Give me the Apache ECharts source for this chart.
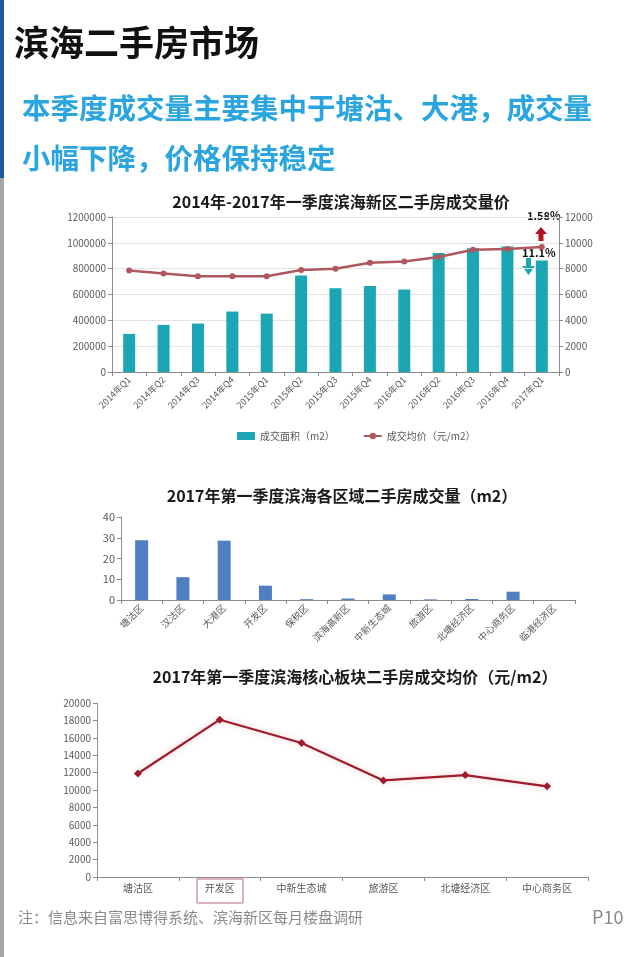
<!DOCTYPE html>
<html><head><meta charset="utf-8">
<script src="https://cdn.jsdelivr.net/npm/echarts@6/dist/echarts.min.js"></script>
<style>html,body{margin:0;padding:0;background:#fff}#c{width:640px;height:957px}</style>
</head><body><div id="c"></div>
<script>
const quarters = ['2014年Q1','2014年Q2','2014年Q3','2014年Q4','2015年Q1','2015年Q2','2015年Q3','2015年Q4','2016年Q1','2016年Q2','2016年Q3','2016年Q4','2017年Q1'];
const dealArea = [295000,365000,375000,468000,452000,747000,649000,665000,639000,921000,959000,972000,864000];
const avgPrice = [7850,7630,7420,7420,7420,7890,7990,8460,8560,8900,9460,9520,9670];
const districts = ['塘沽区','汉沽区','大港区','开发区','保税区','滨海高新区','中新生态城','旅游区','北塘经济区','中心商务区','临港经济区'];
const districtVolume = [28.8,11.0,28.6,6.9,0.4,0.7,2.7,0.3,0.5,4.0,0];
const coreAreas = ['塘沽区','开发区','中新生态城','旅游区','北塘经济区','中心商务区'];
const corePrice = [11900,18080,15400,11100,11720,10420];
const leftTicks1 = {min:0,max:1200000,interval:200000};
const rightTicks1 = {min:0,max:12000,interval:2000};
const ticks2 = {min:0,max:40,interval:10};
const ticks3 = {min:0,max:20000,interval:2000};

const F = '"Noto Sans CJK SC","Microsoft YaHei",sans-serif';
const axisGray = '#8c8c8c';
const lblGray = '#595959';
const chart = echarts.init(document.getElementById('c'), null, {renderer:'canvas'});
const plain = v => String(v);

function xCat(grid, data, rotate, fs){
  return {type:'category', gridIndex:grid, data:data,
    axisLine:{lineStyle:{color:axisGray}},
    axisTick:{show:true, length:4, lineStyle:{color:axisGray}},
    axisLabel:{interval:0, rotate:rotate, fontSize:fs, color:lblGray, fontFamily:F, margin:6}};
}
function yVal(grid, t, opts, fs){
  return Object.assign({type:'value', gridIndex:grid, min:t.min, max:t.max, interval:t.interval,
    axisLine:{show:true, lineStyle:{color:axisGray}},
    axisTick:{show:true, length:4, lineStyle:{color:axisGray}},
    splitLine:{show:false},
    axisLabel:{fontSize:fs||10, color:lblGray, fontFamily:F, margin:6, formatter:plain}}, opts||{});
}

const option = {
  animation:false,
  textStyle:{fontFamily:F},
  title:[
    {text:'2014年-2017年一季度滨海新区二手房成交量价', left:336, top:189, textAlign:'center',
      textStyle:{fontSize:16, fontWeight:'bold', color:'#1a1a1a', fontFamily:F}},
    {text:'2017年第一季度滨海各区域二手房成交量（m2）', left:337, top:483, textAlign:'center',
      textStyle:{fontSize:16, fontWeight:'bold', color:'#1a1a1a', fontFamily:F}},
    {text:'2017年第一季度滨海核心板块二手房成交均价（元/m2）', left:350, top:664, textAlign:'center',
      textStyle:{fontSize:16, fontWeight:'bold', color:'#1a1a1a', fontFamily:F}}
  ],
  legend:{left:232, top:426, itemGap:28, itemWidth:18, itemHeight:8,
    textStyle:{fontSize:10, color:lblGray, fontFamily:F},
    data:[{name:'成交面积（m2）', icon:'rect'}, {name:'成交均价（元/m2）'}]},
  grid:[
    {left:112, right:81, top:217, bottom:585},
    {left:121, right:65, top:517, bottom:357},
    {left:97, right:52, top:703, bottom:80}
  ],
  xAxis:[
    xCat(0, quarters, 45, 9),
    xCat(1, districts, 45, 9.5),
    xCat(2, coreAreas, 0, 10)
  ],
  yAxis:[
    yVal(0, leftTicks1, {splitLine:{show:true, lineStyle:{color:'#e3e3e3'}}}),
    yVal(0, rightTicks1, {position:'right'}),
    yVal(1, ticks2, null, 11),
    yVal(2, ticks3)
  ],
  series:[
    {name:'成交面积（m2）', type:'bar', xAxisIndex:0, yAxisIndex:0, data:dealArea, barWidth:12,
      itemStyle:{color:'#1AA6B3'}},
    {name:'成交均价（元/m2）', type:'line', xAxisIndex:0, yAxisIndex:1, data:avgPrice,
      symbol:'circle', symbolSize:6, lineStyle:{color:'#B0575E', width:2.5}, itemStyle:{color:'#B0575E'}},
    {type:'bar', xAxisIndex:1, yAxisIndex:2, data:districtVolume, barWidth:13, itemStyle:{color:'#4F7FC0'}},
    {type:'line', xAxisIndex:2, yAxisIndex:3, data:corePrice, symbol:'diamond', symbolSize:8,
      lineStyle:{color:'#9E1B2B', width:2.2, shadowColor:'rgba(220,80,90,0.35)', shadowBlur:6},
      itemStyle:{color:'#9E1B2B'}}
  ],
  graphic:[
    {type:'rect', shape:{x:0,y:0,width:4,height:178}, style:{fill:'#1F5C99'}},
    {type:'rect', shape:{x:0,y:178,width:4,height:779}, style:{fill:'#A6A6A6'}},
    {type:'text', left:14, top:25, style:{text:'滨海二手房市场', font:'bold 35px '+F, fill:'#111'}},
    {type:'text', left:22, top:94, style:{text:'本季度成交量主要集中于塘沽、大港，成交量', font:'bold 28.5px '+F, fill:'#2BA5DF'}},
    {type:'text', left:22, top:144, style:{text:'小幅下降，价格保持稳定', font:'bold 28.5px '+F, fill:'#2BA5DF'}},
    {type:'text', left:18, top:910, style:{text:'注：信息来自富思博得系统、滨海新区每月楼盘调研', font:'15px '+F, fill:'#8a8a8a'}},
    {type:'text', left:592, top:908, style:{text:'P10', font:'18px '+F, fill:'#8a8a8a'}},
    {type:'text', left:527, top:210, style:{text:'1.58%', font:'bold 11px '+F, fill:'#111'}},
    {type:'polygon', shape:{points:[[541,227],[535,234],[538.5,234],[538.5,241],[543.5,241],[543.5,234],[547,234]]}, style:{fill:'#B01020'}},
    {type:'text', left:522, top:247, style:{text:'11.1%', font:'bold 11px '+F, fill:'#111'}},
    {type:'polygon', shape:{points:[[526,258],[531,258],[531,266],[535,266],[528.5,275],[522,266],[526,266]]}, style:{fill:'#1AA6B3'}},
    {type:'rect', shape:{x:197,y:879,width:46,height:24}, style:{fill:'none', stroke:'#B86A78', lineWidth:1}}
  ]
};
chart.setOption(option);
</script></body></html>
